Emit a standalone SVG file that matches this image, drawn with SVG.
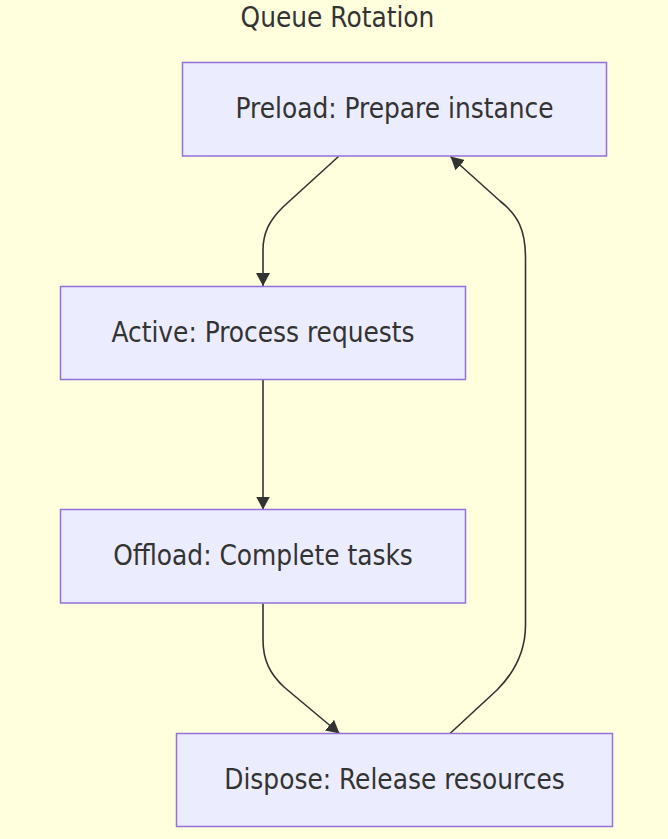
<svg xmlns="http://www.w3.org/2000/svg" width="668" height="839" viewBox="0 0 668 839">
<style>
.bg{fill:#ffffde}
.node rect{fill:#ececff;stroke:#9370db;stroke-width:1.5}
text{font-family:"DejaVu Sans Condensed","DejaVu Sans",sans-serif;font-stretch:condensed;font-size:27.7px;fill:#333333;text-anchor:middle}
.edge{fill:none;stroke:#333333;stroke-width:1.6}
.head{fill:#333333}
</style>
<defs>
<marker id="arrow" viewBox="0 0 13 14" refX="13" refY="7" markerWidth="13" markerHeight="14" markerUnits="userSpaceOnUse" orient="auto">
<path class="head" d="M0,0 L13,7 L0,14 z"/>
</marker>
</defs>
<rect class="bg" x="0" y="0" width="668" height="839"/>
<text id="title" x="337.5" y="26.7">Queue Rotation</text>
<g id="connectors">
<path class="edge" d="M338.5,156.5 L283,207 C270,220 263,232 263,250 L263,286" marker-end="url(#arrow)"/>
<path class="edge" d="M263,380 L263,509.5" marker-end="url(#arrow)"/>
<path class="edge" d="M263,603.5 L263,640 C263,660 270,674 284,687 L339.5,733.5" marker-end="url(#arrow)"/>
<path class="edge" d="M450,733.5 L497,690 C515,672 525.5,650 525.5,625 L525.5,258 C525.5,230 518,215 500,201 L450.5,156.5" marker-end="url(#arrow)"/>
</g>
<g id="preload" class="node">
<rect x="182.5" y="62.5" width="424" height="93.5"/>
<text x="394.5" y="118">Preload: Prepare instance</text>
</g>
<g id="active" class="node">
<rect x="60.5" y="286.5" width="405" height="93"/>
<text x="263" y="342">Active: Process requests</text>
</g>
<g id="offload" class="node">
<rect x="60.5" y="509.5" width="405" height="93.5"/>
<text x="263" y="565">Offload: Complete tasks</text>
</g>
<g id="dispose" class="node">
<rect x="176.5" y="733.5" width="436" height="93"/>
<text x="394.5" y="789">Dispose: Release resources</text>
</g>
</svg>
